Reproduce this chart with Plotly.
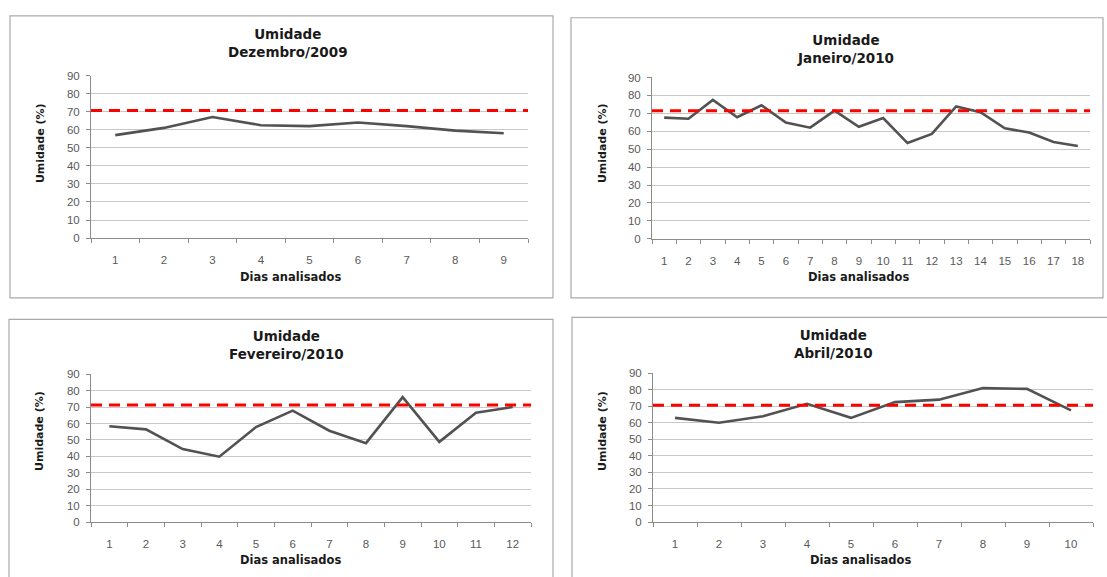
import plotly.graph_objects as go

W, H = 1107, 577

# ---------------- data ----------------
dias_dez = [1, 2, 3, 4, 5, 6, 7, 8, 9]
umid_dez = [57, 61, 67, 62.5, 62, 64, 62, 59.5, 58]

dias_jan = list(range(1, 19))
umid_jan = [67.6, 67, 77.5, 67.8, 74.5, 64.8, 62, 71.5, 62.5, 67.4, 53.4, 58.5,
            73.8, 70.6, 61.6, 59.3, 54, 51.8]

dias_fev = list(range(1, 13))
umid_fev = [58.3, 56.4, 44.4, 39.8, 57.8, 67.8, 55.6, 48, 76, 48.8, 66.6, 70]

dias_abr = list(range(1, 11))
umid_abr = [63, 60, 64, 71.5, 63, 72.5, 74, 81, 80.5, 67.5]

limiar = [70.7, 71.5, 71.2, 70.6]  # red dashed reference line per panel

meses = ["Dezembro/2009", "Janeiro/2010", "Fevereiro/2010", "Abril/2010"]
y_ticks = [0, 10, 20, 30, 40, 50, 60, 70, 80, 90]

series = [(dias_dez, umid_dez), (dias_jan, umid_jan), (dias_fev, umid_fev), (dias_abr, umid_abr)]

# ---------------- layout geometry (pixels) ----------------
# plot areas: (left, right, top(90), bottom(0))
areas = [(91, 528, 71, 237), (652, 1090, 73, 237.7), (91, 531, 376, 527), (653, 1093, 375, 527)]
boxes = [(10, 553, 10, 298), (571, 1103, 12, 298), (9, 553, 320, 590), (572, 1112, 318, 590)]
title_pos = [(288, 38), (845, 44), (286, 346), (833, 345)]
ytitle_pos = [(40, 140), (602, 140), (40, 434), (603, 434)]
xtitle_pos = [(290, 277), (858, 277), (290, 566), (860, 566)]

def px(x):
    return x / W

def py(y):
    return 1 - y / H

fig = go.Figure()
FONT_T = "DejaVu Sans, Verdana, Arial"
FONT_N = "Liberation Sans, Arial"
GRID = "#c8c8c8"
AX = "#8c8c8c"

annotations = []
shapes = []
for i, ((dias, umid), mes) in enumerate(zip(series, meses)):
    k = "" if i == 0 else str(i + 1)
    l, r, t, b = areas[i]
    n = len(dias)
    fig.add_trace(go.Scatter(
        x=dias, y=umid, mode="lines",
        line=dict(color="#525252", width=2.6),
        xaxis="x" + k, yaxis="y" + k, showlegend=False, hoverinfo="skip"))
    fig.update_layout(**{
        "xaxis" + k: dict(
            domain=[px(l), px(r)], anchor="y" + k,
            range=[0.5, n + 0.5], tickmode="array", tickvals=dias,
            ticktext=[str(d) for d in dias], ticks="", showgrid=False,
            showline=True, linecolor=AX, linewidth=1, zeroline=False,
            tickfont=dict(family=FONT_N, size=11.5, color="#595959"),
            ticklabelstandoff=11, fixedrange=True,
            minor=dict(tickmode="linear", tick0=0.5, dtick=1, ticks="outside",
                       ticklen=4, tickcolor=AX, tickwidth=1, showgrid=False),
        ),
        "yaxis" + k: dict(
            domain=[py(b), py(t)], anchor="x" + k,
            range=[0, 90], tickmode="array", tickvals=y_ticks,
            ticks="outside", ticklen=4, tickcolor=AX, tickwidth=1,
            showgrid=True, gridcolor=GRID, gridwidth=1,
            showline=True, linecolor=AX, linewidth=1, zeroline=False,
            tickfont=dict(family=FONT_N, size=11.5, color="#595959"),
            ticklabelstandoff=4, fixedrange=True,
        ),
    })
    # red dashed reference line
    shapes.append(dict(type="line", xref="x" + k + " domain", yref="y" + k,
                       x0=0, x1=1, y0=limiar[i], y1=limiar[i],
                       line=dict(color="#ff0000", width=3, dash="11px,7px"), layer="above"))
    # chart box border
    bl, br, bt, bb = boxes[i]
    shapes.append(dict(type="rect", xref="paper", yref="paper",
                       x0=px(bl), x1=px(br), y0=py(bb), y1=py(bt),
                       line=dict(color="#a9a9a9", width=1.2), layer="below"))
    tx, ty = title_pos[i]
    annotations.append(dict(
        x=px(tx), y=py(ty), xref="paper", yref="paper", showarrow=False,
        text="<b>Umidade</b><br><b>" + mes + "</b>",
        font=dict(family=FONT_T, size=13.5, color="#1a1a1a"),
        xanchor="center", yanchor="middle", align="center"))
    yx, yy = ytitle_pos[i]
    annotations.append(dict(
        x=px(yx), y=py(yy), xref="paper", yref="paper", showarrow=False,
        text="<b>Umidade (%)</b>", textangle=-90,
        font=dict(family=FONT_T, size=11, color="#1a1a1a"),
        xanchor="center", yanchor="middle"))
    xx, xy = xtitle_pos[i]
    annotations.append(dict(
        x=px(xx), y=py(xy), xref="paper", yref="paper", showarrow=False,
        text="<b>Dias analisados</b>",
        font=dict(family=FONT_T, size=11.5, color="#1a1a1a"),
        xanchor="center", yanchor="middle"))

fig.update_layout(
    width=W, height=H,
    margin=dict(l=0, r=0, t=0, b=0),
    paper_bgcolor="white", plot_bgcolor="white",
    showlegend=False,
    annotations=annotations,
    shapes=shapes,
)

fig.write_html("out.html", config={"displayModeBar": False})
